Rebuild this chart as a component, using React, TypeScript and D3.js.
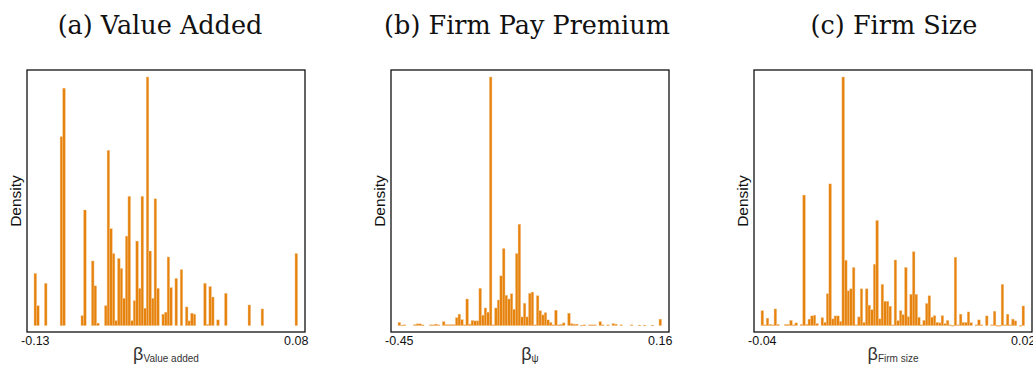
import { useEffect, useRef } from 'react';
import { select, scaleBand, scaleLinear, range } from 'd3';

// relative bin heights (tallest bin = 100), 101 bins per panel
const valueAddedBins = [
  21, 8, 0, 0, 17, 0, 0, 0, 0, 0,
  76, 95.5, 0, 0, 0, 0, 0, 0, 4, 46.5,
  0, 0, 26, 16, 1, 0, 0, 8, 70.5, 39,
  29, 2, 27, 23, 11, 36, 52, 2, 10, 34,
  15, 52, 7, 100, 30, 11, 51, 15, 0, 4.6,
  5.4, 27.6, 15.3, 0, 19, 0, 22.5, 0, 7.5, 1.9,
  5, 4.6, 0, 0, 0, 17, 0.5, 15.7, 11.5, 0,
  2.3, 0, 0, 13, 0, 0, 0, 0, 0, 0,
  0, 0, 8.3, 0, 0, 0, 0, 6.7, 0, 0,
  0, 0, 0, 0, 0, 0, 0, 0, 0, 0,
  29,
];

const payPremiumBins = [
  1.3, 0.2, 0.3, 0, 0, 0, 0.4, 0.7, 0.7, 0.3,
  0, 0, 0.3, 0.3, 0.6, 0.3, 0, 1.6, 0.4, 0.4,
  0.4, 0.4, 3.2, 4.6, 2.4, 0.3, 10.7, 0.6, 2.1, 1.9,
  1.9, 15, 4.2, 7.1, 5.4, 100, 0.3, 7.1, 10.3, 20,
  31, 12.2, 10.7, 12.8, 6.6, 29, 40.8, 3.5, 9, 3.5,
  13, 13.5, 0.3, 12, 6, 4.3, 5.2, 2.3, 1.3, 0.3,
  6.2, 0.3, 0.5, 1.1, 0, 5, 0.8, 0.6, 0.6, 0,
  0.2, 0.3, 0, 0.3, 0.3, 0.3, 0, 1.6, 0.3, 0,
  0.3, 0, 0.8, 0.6, 0, 0.3, 0, 0, 0, 0.3,
  0, 0, 0.2, 0, 0.2, 0, 0, 0.2, 0, 0,
  2.6,
];

const firmSizeBins = [
  6, 0.3, 3, 0.5, 0.3, 6.7, 0.5, 0, 0, 0.5,
  0.5, 2.1, 0.3, 1.1, 0, 0.5, 52.5, 0.5, 2.6, 3.9,
  4.2, 0.8, 0, 3.2, 1.3, 12.8, 57, 2.7, 3.9, 3.9,
  1.7, 100, 26.3, 14, 14.8, 23.4, 0.3, 3.5, 14.8, 1.3,
  14.8, 8.2, 6.4, 24.7, 42.3, 2.7, 16.6, 9.8, 9.8, 7.8,
  0.3, 26.4, 2, 6, 4.4, 23.4, 3.6, 12.6, 29.7, 12.6,
  3.4, 0.3, 2.1, 8.9, 12, 3.4, 4, 1.3, 1.1, 4,
  0.8, 2.1, 0.3, 0.1, 27.5, 0.3, 4.6, 1.3, 1.3, 5.5,
  1.2, 0, 0.3, 2.3, 0.3, 0, 3.9, 0, 0.3, 5.8,
  0.1, 0.1, 16.6, 0.3, 4.6, 0.3, 2.6, 1.9, 0, 0.1,
  7.9,
];

const panelTitles = ['(a) Value Added', '(b) Firm Pay Premium', '(c) Firm Size'];
const xTickLabels = [
  ['-0.13', '0.08'],
  ['-0.45', '0.16'],
  ['-0.04', '0.02'],
];
const xSubscripts = ['Value added', 'ψ', 'Firm size'];

const panelBins = [valueAddedBins, payPremiumBins, firmSizeBins];

export default function App() {
  const svgRef = useRef<SVGSVGElement>(null);

  useEffect(() => {
    if (!svgRef.current) return;
    const svg = select(svgRef.current);
    svg.selectAll('*').remove();

    const lefts = [27, 391, 754];
    const titleCenters = [160, 527, 894];
    const boxTop = 70;
    const boxW = 278;
    const boxH = 262;
    const barLeft = 7;
    const barSpan = 263.6;
    const baseline = 325.6;
    const peakTop = 77;
    const sans = 'Liberation Sans, Arial, sans-serif';

    panelBins.forEach((bins, p) => {
      const g = svg.append('g').attr('transform', `translate(${lefts[p]},0)`);

      // Scales
      const x = scaleBand<number>()
        .domain(range(bins.length))
        .range([barLeft, barLeft + barSpan])
        .paddingInner(0);
      const y = scaleLinear().domain([0, 100]).range([baseline, peakTop]);
      const [lo, hi] = xTickLabels[p].map(Number);
      const bw = x.bandwidth();
      const xVal = scaleLinear()
        .domain([lo, hi])
        .range([(x(0) || 0) + bw / 2, (x(bins.length - 1) || 0) + bw / 2]);

      // Bars
      g.selectAll('.bar')
        .data(bins.map((v, i) => ({ v, i })).filter((d) => d.v > 0))
        .enter()
        .append('rect')
        .attr('class', 'bar')
        .attr('x', (d) => x(d.i) || 0)
        .attr('y', (d) => y(d.v))
        .attr('width', bw)
        .attr('height', (d) => Math.max(baseline - y(d.v), 0.8))
        .attr('fill', '#E6830E')
        .attr('stroke', '#F6C791')
        .attr('stroke-width', 0.4);

      // Frame
      g.append('rect')
        .attr('x', 0)
        .attr('y', boxTop)
        .attr('width', boxW)
        .attr('height', boxH)
        .attr('fill', 'none')
        .attr('stroke', '#111')
        .attr('stroke-width', 1.3);

      // Tick labels at min and max
      g.selectAll('.tick')
        .data([lo, hi])
        .enter()
        .append('text')
        .attr('x', (d) => xVal(d))
        .attr('y', 345)
        .attr('text-anchor', 'middle')
        .attr('font-family', sans)
        .attr('font-size', 12.5)
        .attr('fill', '#111')
        .text((d, i) => xTickLabels[p][i]);

      // Y label
      g.append('text')
        .attr('transform', `translate(-6,${boxTop + boxH / 2}) rotate(-90)`)
        .attr('text-anchor', 'middle')
        .attr('font-family', sans)
        .attr('font-size', 15.5)
        .attr('fill', '#111')
        .text('Density');

      // X label: beta with subscript
      const xl = g.append('text')
        .attr('x', boxW / 2)
        .attr('y', 360)
        .attr('text-anchor', 'middle')
        .attr('font-family', sans)
        .attr('fill', '#333');
      xl.append('tspan').attr('font-size', 18).text('β');
      xl.append('tspan')
        .attr('font-size', 10)
        .attr('dy', 2)
        .text(xSubscripts[p]);

      // Title
      svg.append('text')
        .attr('x', titleCenters[p])
        .attr('y', 34)
        .attr('text-anchor', 'middle')
        .attr('font-family', 'DejaVu Serif, serif')
        .attr('font-size', 25.5)
        .attr('fill', '#111')
        .text(panelTitles[p]);
    });
  }, []);

  return (
    <div style={{ position: 'fixed', left: 0, top: 0, background: '#fff' }}>
      <svg ref={svgRef} width={1033} height={368} style={{ display: 'block' }} />
    </div>
  );
}
